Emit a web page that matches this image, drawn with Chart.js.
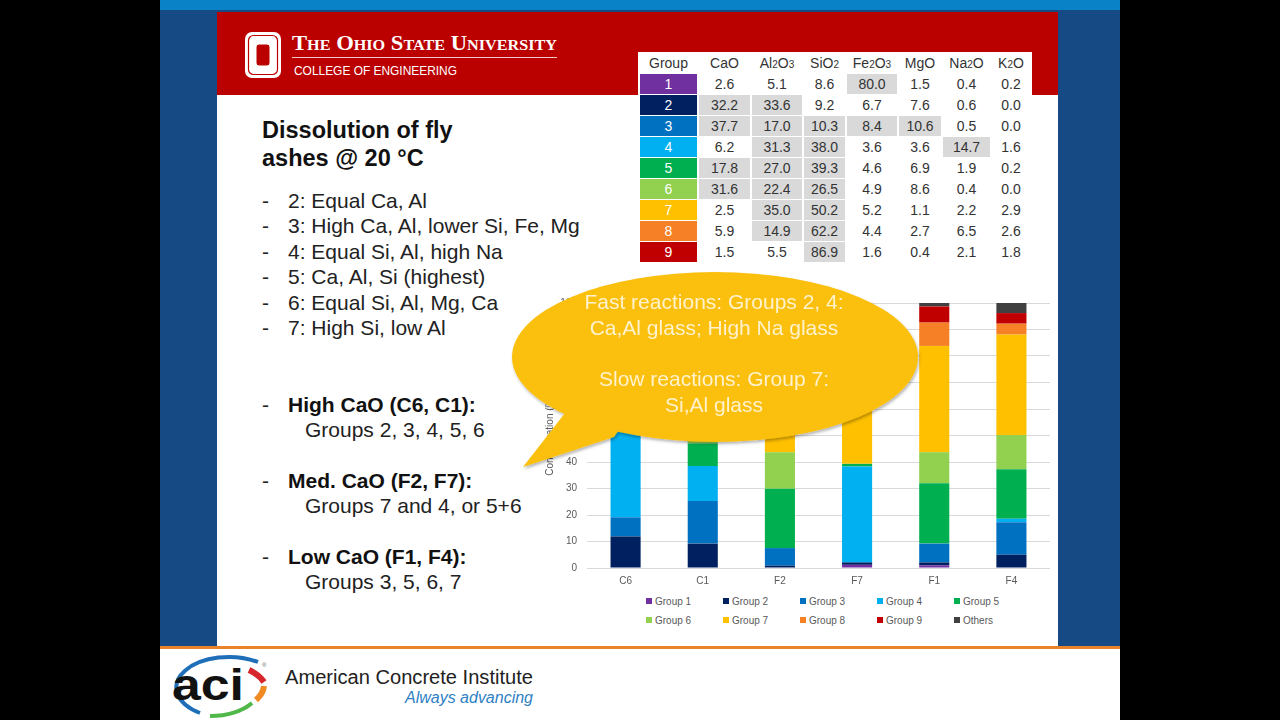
<!DOCTYPE html>
<html>
<head>
<meta charset="utf-8">
<script src="https://cdn.jsdelivr.net/npm/chart.js@4/dist/chart.umd.min.js"></script>
<style>
  html, body { margin: 0; padding: 0; }
  body { width: 1280px; height: 720px; background: #000; position: relative; overflow: hidden;
         font-family: "Liberation Sans", Arial, sans-serif; }
  .abs { position: absolute; }
  #slide { left: 160px; top: 0; width: 960px; height: 720px; background: #154a85; }
  #topband { left: 160px; top: 0; width: 960px; height: 10px; background: #0a82c8; }
  #header { left: 217px; top: 12px; width: 841px; height: 83px; background: #bb0000; }
  #panel { left: 217px; top: 95px; width: 841px; height: 551px; background: #fff; }
  #orange { left: 160px; top: 646px; width: 960px; height: 3px; background: #e8832a; }
  #footer { left: 160px; top: 649px; width: 960px; height: 71px; background: #fff; }
  .title { left: 262px; font-size: 23.5px; line-height: 28px; font-weight: bold; color: #111; white-space: nowrap; }
  .dash { left: 262px; font-size: 21px; color: #222; }
  .item { left: 288px; font-size: 21px; color: #222; white-space: nowrap; }
  .bold { font-weight: bold; color: #111; }
  .sub { left: 305px; font-size: 21px; color: #222; white-space: nowrap; }
  #tbl { left: 638px; top: 52px; background: #fff; border-collapse: separate; border-spacing: 2px 1px;
         font-size: 14px; color: #333; }
  #tbl td, #tbl th { height: 20px; padding: 0; text-align: center; font-weight: normal; }
  #tbl .gc { color: #fff; }
  #tbl .hl { background: #d9d9d9; }
  #tbl small { font-size: 10px; }
  #chartBox { left: 540px; top: 287px; width: 515px; height: 307px; }
  #legend { left: 646px; top: 596px; width: 400px; display: grid; grid-template-columns: repeat(5, 77px);
            row-gap: 8px; font-size: 10px; color: #595959; }
  #legend span.box { display: inline-block; width: 6px; height: 6px; margin-right: 3px; vertical-align: 1px; }
</style>
</head>
<body>
<div id="slide" class="abs"></div>
<div id="topband" class="abs"></div>
<div id="header" class="abs"></div>
<div id="panel" class="abs"></div>
<div id="orange" class="abs"></div>
<div id="footer" class="abs"></div>

<svg class="abs" style="left:0;top:0" width="1280" height="720">
  <!-- OSU block O -->
  <rect x="245" y="32" width="36" height="46" rx="7" fill="#fff"/>
  <rect x="248.5" y="35.5" width="29" height="39" rx="5" fill="none" stroke="#bb0000" stroke-width="1.2"/>
  <rect x="256" y="44" width="14" height="22" rx="3" fill="#bb0000" stroke="#fff" stroke-width="1"/>
  <text x="292" y="50" fill="#fff" font-family="Liberation Serif, serif" font-weight="bold" font-size="21"
        style="font-variant: small-caps" textLength="265" lengthAdjust="spacingAndGlyphs">The Ohio State University</text>
  <line x1="292" y1="57.5" x2="557" y2="57.5" stroke="#f0c8c8" stroke-width="1"/>
  <text x="294" y="75" fill="#fff" font-family="Liberation Sans, sans-serif" font-size="13"
        textLength="163" lengthAdjust="spacingAndGlyphs">COLLEGE OF ENGINEERING</text>

  <!-- ACI logo -->
  <path d="M 200 713 A 50 29 0 1 1 258 662" fill="none" stroke="#1f6fb8" stroke-width="4"/>
  <path d="M 249 670 A 50 29 0 0 1 264 682" fill="none" stroke="#d7262b" stroke-width="6"/>
  <path d="M 264 686 A 50 29 0 0 1 256 700" fill="none" stroke="#f08a22" stroke-width="6"/>
  <path d="M 252 703 A 50 29 0 0 1 210 716" fill="none" stroke="#4fb848" stroke-width="4"/>
  <text x="172" y="700" font-family="Liberation Sans, sans-serif" font-weight="bold" font-size="44" fill="#111"
        textLength="72" lengthAdjust="spacingAndGlyphs">aci</text>
  <text x="262" y="667" font-size="6" fill="#666">®</text>
  <text x="285" y="684" font-family="Liberation Sans, sans-serif" font-size="20" fill="#222"
        textLength="248" lengthAdjust="spacingAndGlyphs">American Concrete Institute</text>
  <text x="405" y="703" font-family="Liberation Sans, sans-serif" font-style="italic" font-size="16" fill="#2e7fc4"
        textLength="128" lengthAdjust="spacingAndGlyphs">Always advancing</text>
</svg>

<div class="abs title" style="top:116px">Dissolution of fly</div>
<div class="abs title" style="top:144px">ashes @ 20 °C</div>

<div id="bullets"></div>

<table id="tbl" class="abs"></table>

<div id="chartBox" class="abs"><canvas id="myChart" width="515" height="307"></canvas></div>
<div id="legend" class="abs"></div>

<svg class="abs" style="left:0;top:0;pointer-events:none" width="1280" height="720">
  <defs>
    <filter id="sh" x="-10%" y="-10%" width="120%" height="130%">
      <feDropShadow dx="1" dy="2" stdDeviation="1.5" flood-color="#000" flood-opacity="0.3"/>
    </filter>
  </defs>
  <g filter="url(#sh)" fill="#fbbf0a">
    <ellipse cx="715" cy="357" rx="203" ry="85"/>
    <polygon points="565,413 523,467 614,437 640,400"/>
  </g>
  <g fill="#fff2cc" font-family="Liberation Sans, sans-serif" font-size="21" text-anchor="middle">
    <text x="714" y="309">Fast reactions: Groups 2, 4:</text>
    <text x="714" y="335">Ca,Al glass; High Na glass</text>
    <text x="714" y="386">Slow reactions: Group 7:</text>
    <text x="714" y="412">Si,Al glass</text>
  </g>
</svg>

<script>
// stacked bar data, % of each fly ash (hidden parts estimated)
const categories = ['C6', 'C1', 'F2', 'F7', 'F1', 'F4'];
const group1 = [0, 0, 0, 1.2, 1.0, 0];
const group2 = [11.9, 9.2, 0.9, 0.9, 1.1, 5.0];
const group3 = [7.2, 16.1, 6.6, 0, 7.1, 12.3];
const group4 = [40.9, 13.2, 0, 36.2, 0, 1.3];
const group5 = [8.0, 8.5, 22.4, 1.0, 22.8, 18.7];
const group6 = [12.0, 14.0, 13.8, 0, 11.7, 12.9];
const group7 = [15.0, 30.0, 46.0, 52.0, 40.1, 37.9];
const group8 = [2.5, 4.0, 5.0, 4.5, 8.8, 4.1];
const group9 = [1.5, 3.0, 3.5, 3.0, 6.1, 4.0];
const others = [1.0, 2.0, 1.8, 1.2, 1.3, 3.8];
const yTicks = [0, 10, 20, 30, 40, 50, 60, 70, 80, 90, 100];

const seriesNames = ['Group 1', 'Group 2', 'Group 3', 'Group 4', 'Group 5',
                     'Group 6', 'Group 7', 'Group 8', 'Group 9', 'Others'];
const seriesData = [group1, group2, group3, group4, group5, group6, group7, group8, group9, others];
const colors = ['#7030a0', '#002060', '#0070c0', '#00b0f0', '#00b050',
                '#92d050', '#ffc000', '#f58025', '#c00000', '#404040'];

// oxide composition table
const oxides = ['CaO', 'Al<small>2</small>O<small>3</small>', 'SiO<small>2</small>', 'Fe<small>2</small>O<small>3</small>',
                'MgO', 'Na<small>2</small>O', 'K<small>2</small>O'];
const tableRows = [
  [2.6, 5.1, 8.6, 80.0, 1.5, 0.4, 0.2],
  [32.2, 33.6, 9.2, 6.7, 7.6, 0.6, 0.0],
  [37.7, 17.0, 10.3, 8.4, 10.6, 0.5, 0.0],
  [6.2, 31.3, 38.0, 3.6, 3.6, 14.7, 1.6],
  [17.8, 27.0, 39.3, 4.6, 6.9, 1.9, 0.2],
  [31.6, 22.4, 26.5, 4.9, 8.6, 0.4, 0.0],
  [2.5, 35.0, 50.2, 5.2, 1.1, 2.2, 2.9],
  [5.9, 14.9, 62.2, 4.4, 2.7, 6.5, 2.6],
  [1.5, 5.5, 86.9, 1.6, 0.4, 2.1, 1.8]
];
const highlighted = [
  [3], [0, 1], [0, 1, 2, 3, 4], [1, 2, 5], [0, 1, 2], [0, 1, 2], [1, 2], [1, 2], [2]
];
const colWidths = [57, 51, 50, 41, 50, 42, 47, 38];

// left-hand bullet text
const bulletLines = [
  '2: Equal Ca, Al',
  '3: High Ca, Al, lower Si, Fe, Mg',
  '4: Equal Si, Al, high Na',
  '5: Ca, Al, Si (highest)',
  '6: Equal Si, Al, Mg, Ca',
  '7: High Si, low Al'
];
const summary = [
  ['High CaO (C6, C1):', 'Groups 2, 3, 4, 5, 6'],
  ['Med. CaO (F2, F7):', 'Groups 7 and 4, or 5+6'],
  ['Low CaO (F1, F4):', 'Groups 3, 5, 6, 7']
];

let html = '';
bulletLines.forEach((t, i) => {
  const top = 189 + i * 25.4;
  html += `<div class="abs dash" style="top:${top}px">-</div><div class="abs item" style="top:${top}px">${t}</div>`;
});
summary.forEach((s, i) => {
  const top = 393 + i * 76;
  html += `<div class="abs dash" style="top:${top}px">-</div>` +
          `<div class="abs item bold" style="top:${top}px">${s[0]}</div>` +
          `<div class="abs sub" style="top:${top + 25}px">${s[1]}</div>`;
});
document.getElementById('bullets').innerHTML = html;

let t = '<tr><th style="width:' + colWidths[0] + 'px">Group</th>';
oxides.forEach((o, i) => { t += `<th style="width:${colWidths[i + 1]}px">${o}</th>`; });
t += '</tr>';
tableRows.forEach((row, r) => {
  t += `<tr><td class="gc" style="background:${colors[r]}">${r + 1}</td>`;
  row.forEach((v, c) => {
    t += `<td class="${highlighted[r].includes(c) ? 'hl' : ''}">${v.toFixed(1)}</td>`;
  });
  t += '</tr>';
});
document.getElementById('tbl').innerHTML = t;

const ctx = document.getElementById('myChart').getContext('2d');
const chart = new Chart(ctx, {
  type: 'bar',
  data: {
    labels: categories,
    datasets: seriesNames.map((name, i) => ({
      label: name,
      data: seriesData[i],
      backgroundColor: colors[i],
      borderWidth: 0,
      barPercentage: 0.39,
      categoryPercentage: 1.0
    }))
  },
  options: {
    responsive: false,
    animation: false,
    layout: { padding: { top: 2, right: 5, bottom: 0, left: 0 } },
    plugins: { legend: { display: false }, tooltip: { enabled: false } },
    scales: {
      x: {
        stacked: true,
        grid: { display: false, drawTicks: false },
        border: { display: false },
        ticks: { color: '#595959', font: { family: 'Liberation Sans', size: 10 }, padding: 7 }
      },
      y: {
        stacked: true,
        min: 0,
        max: 100,
        afterBuildTicks: axis => { axis.ticks = yTicks.map(v => ({ value: v })); },
        afterFit: axis => { axis.width = 47; },
        grid: { color: '#d9d9d9', drawTicks: false },
        border: { display: false },
        ticks: { color: '#595959', font: { family: 'Liberation Sans', size: 10 }, padding: 10 },
        title: {
          display: true,
          text: 'Concentration (%)',
          color: '#595959',
          font: { family: 'Liberation Sans', size: 10 },
          padding: { top: 4, bottom: 4 }
        }
      }
    }
  }
});

// legend grid built from the chart's datasets
document.getElementById('legend').innerHTML = chart.data.datasets.map(ds =>
  `<div><span class="box" style="background:${ds.backgroundColor}"></span>${ds.label}</div>`
).join('');
</script>
</body>
</html>
